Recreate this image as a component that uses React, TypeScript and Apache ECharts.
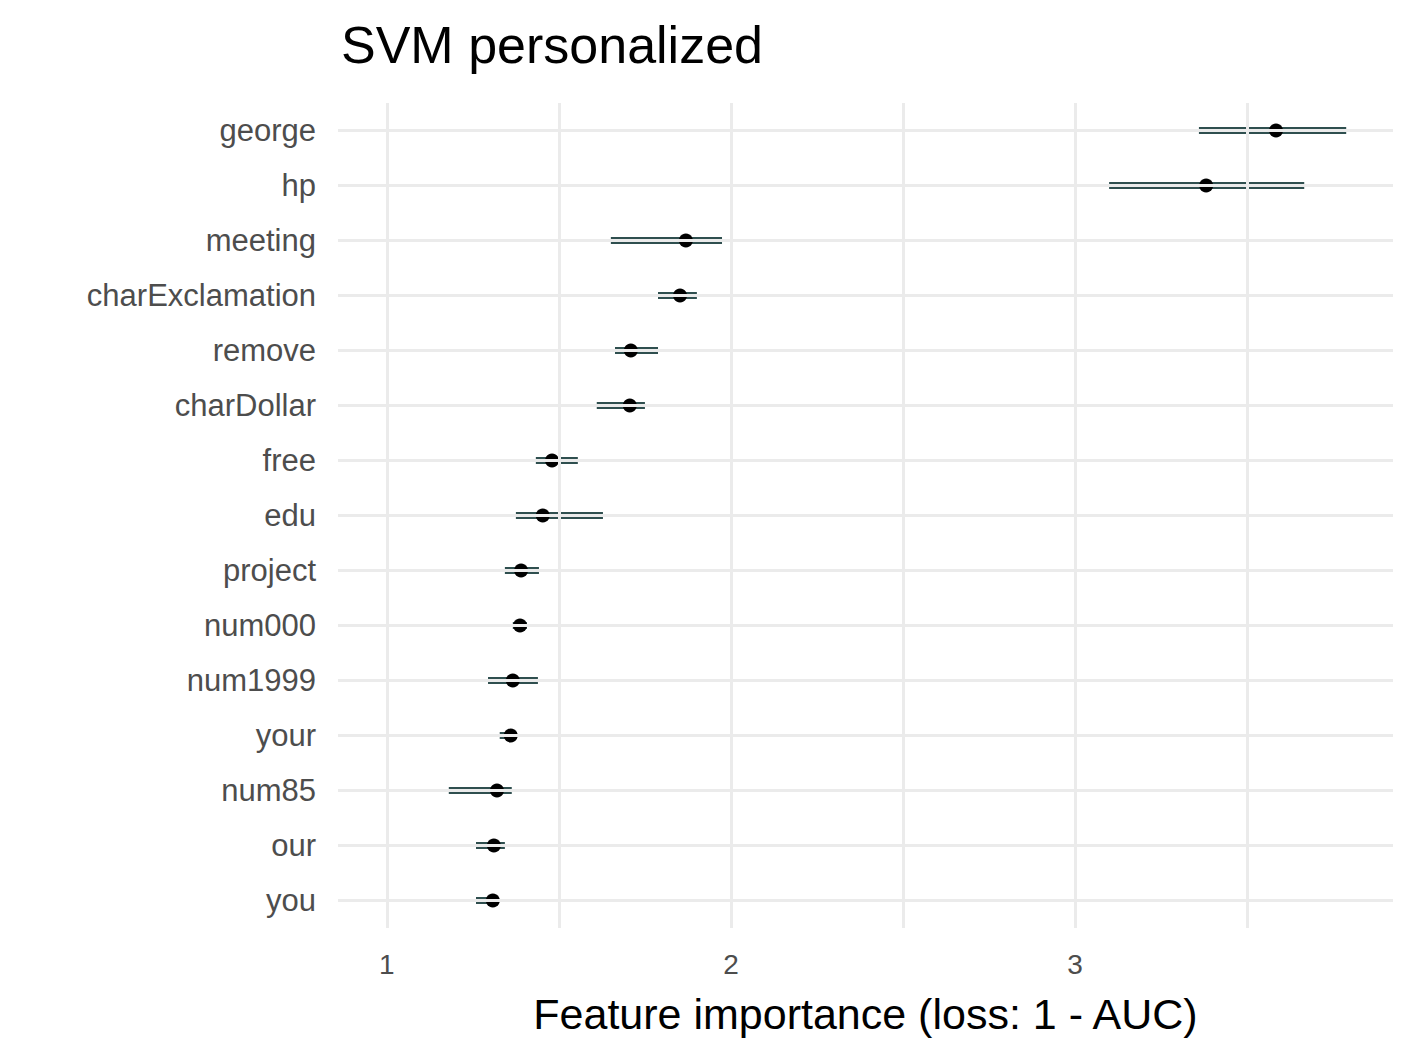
import React, { useEffect, useRef } from "react";
import * as echarts from "echarts";

const features = ["george","hp","meeting","charExclamation","remove","charDollar","free","edu","project","num000","num1999","your","num85","our","you"];
const lows = [3.36,3.099,1.651,1.788,1.663,1.61,1.433,1.375,1.343,1.366,1.294,1.328,1.18,1.259,1.259];
const points = [3.584,3.381,1.869,1.852,1.709,1.706,1.48,1.453,1.39,1.387,1.366,1.36,1.32,1.311,1.308];
const highs = [3.788,3.666,1.974,1.901,1.788,1.75,1.555,1.628,1.442,1.407,1.439,1.378,1.363,1.343,1.299];
const tickValues = [1, 2, 3];
const gridValues = [1, 1.5, 2, 2.5, 3, 3.5];

export default function App() {
  const ref = useRef<HTMLDivElement>(null);
  useEffect(() => {
    document.body.style.margin = "0";
    const chart = echarts.init(ref.current!, undefined, { renderer: "svg" });
    chart.setOption({
      animation: false,
      backgroundColor: "#fff",
      textStyle: { fontFamily: "Liberation Sans, Arial, sans-serif" },
      title: { text: "SVM personalized", left: 336, top: 14, textStyle: { fontSize: 52, fontWeight: "normal", color: "#000" } },
      grid: { left: 338, right: 24, top: 103, bottom: 134 },
      xAxis: {
        type: "value", min: 0.858, max: 3.924,
        name: "Feature importance (loss: 1 - AUC)", nameLocation: "middle", nameGap: 64,
        nameTextStyle: { fontSize: 43, color: "#000" },
        axisLine: { show: false }, axisTick: { show: false },
        axisLabel: { fontSize: 28, color: "#4d4d4d", margin: 22, customValues: tickValues },
        splitLine: { show: false },
      },
      yAxis: {
        type: "category", data: features, inverse: true,
        axisLine: { show: false }, axisTick: { show: false },
        axisLabel: { fontSize: 31, color: "#4d4d4d", margin: 22 },
        splitLine: { show: false },
      },
      series: [
        {
          type: "custom",
          data: features.map((_, i) => [i, lows[i], highs[i]]),
          encode: { x: [1, 2], y: 0 },
          renderItem: (params: any, api: any) => {
            const a = api.coord([api.value(1), api.value(0)]);
            const b = api.coord([api.value(2), api.value(0)]);
            return { type: "line", z2: 10, shape: { x1: a[0], y1: a[1], x2: b[0], y2: b[1] }, style: { stroke: "#2f4f4f", lineWidth: 7 } };
          },
          z: 3,
        },
        {
          type: "scatter",
          data: features.map((_, i) => [points[i], i]),
          symbolSize: 14,
          itemStyle: { color: "#000", opacity: 1 },
          z: 4,
          markLine: {
            silent: true, symbol: "none", label: { show: false },
            lineStyle: { color: "#ebebeb", width: 3, type: "solid" },
            data: [
              ...gridValues.map((v) => ({ xAxis: v })),
              ...features.map((f) => ({ yAxis: f })),
            ],
          },
        },
      ],
    });
    return () => chart.dispose();
  }, []);
  return <div ref={ref} style={{ width: 1417, height: 1062 }} />;
}
